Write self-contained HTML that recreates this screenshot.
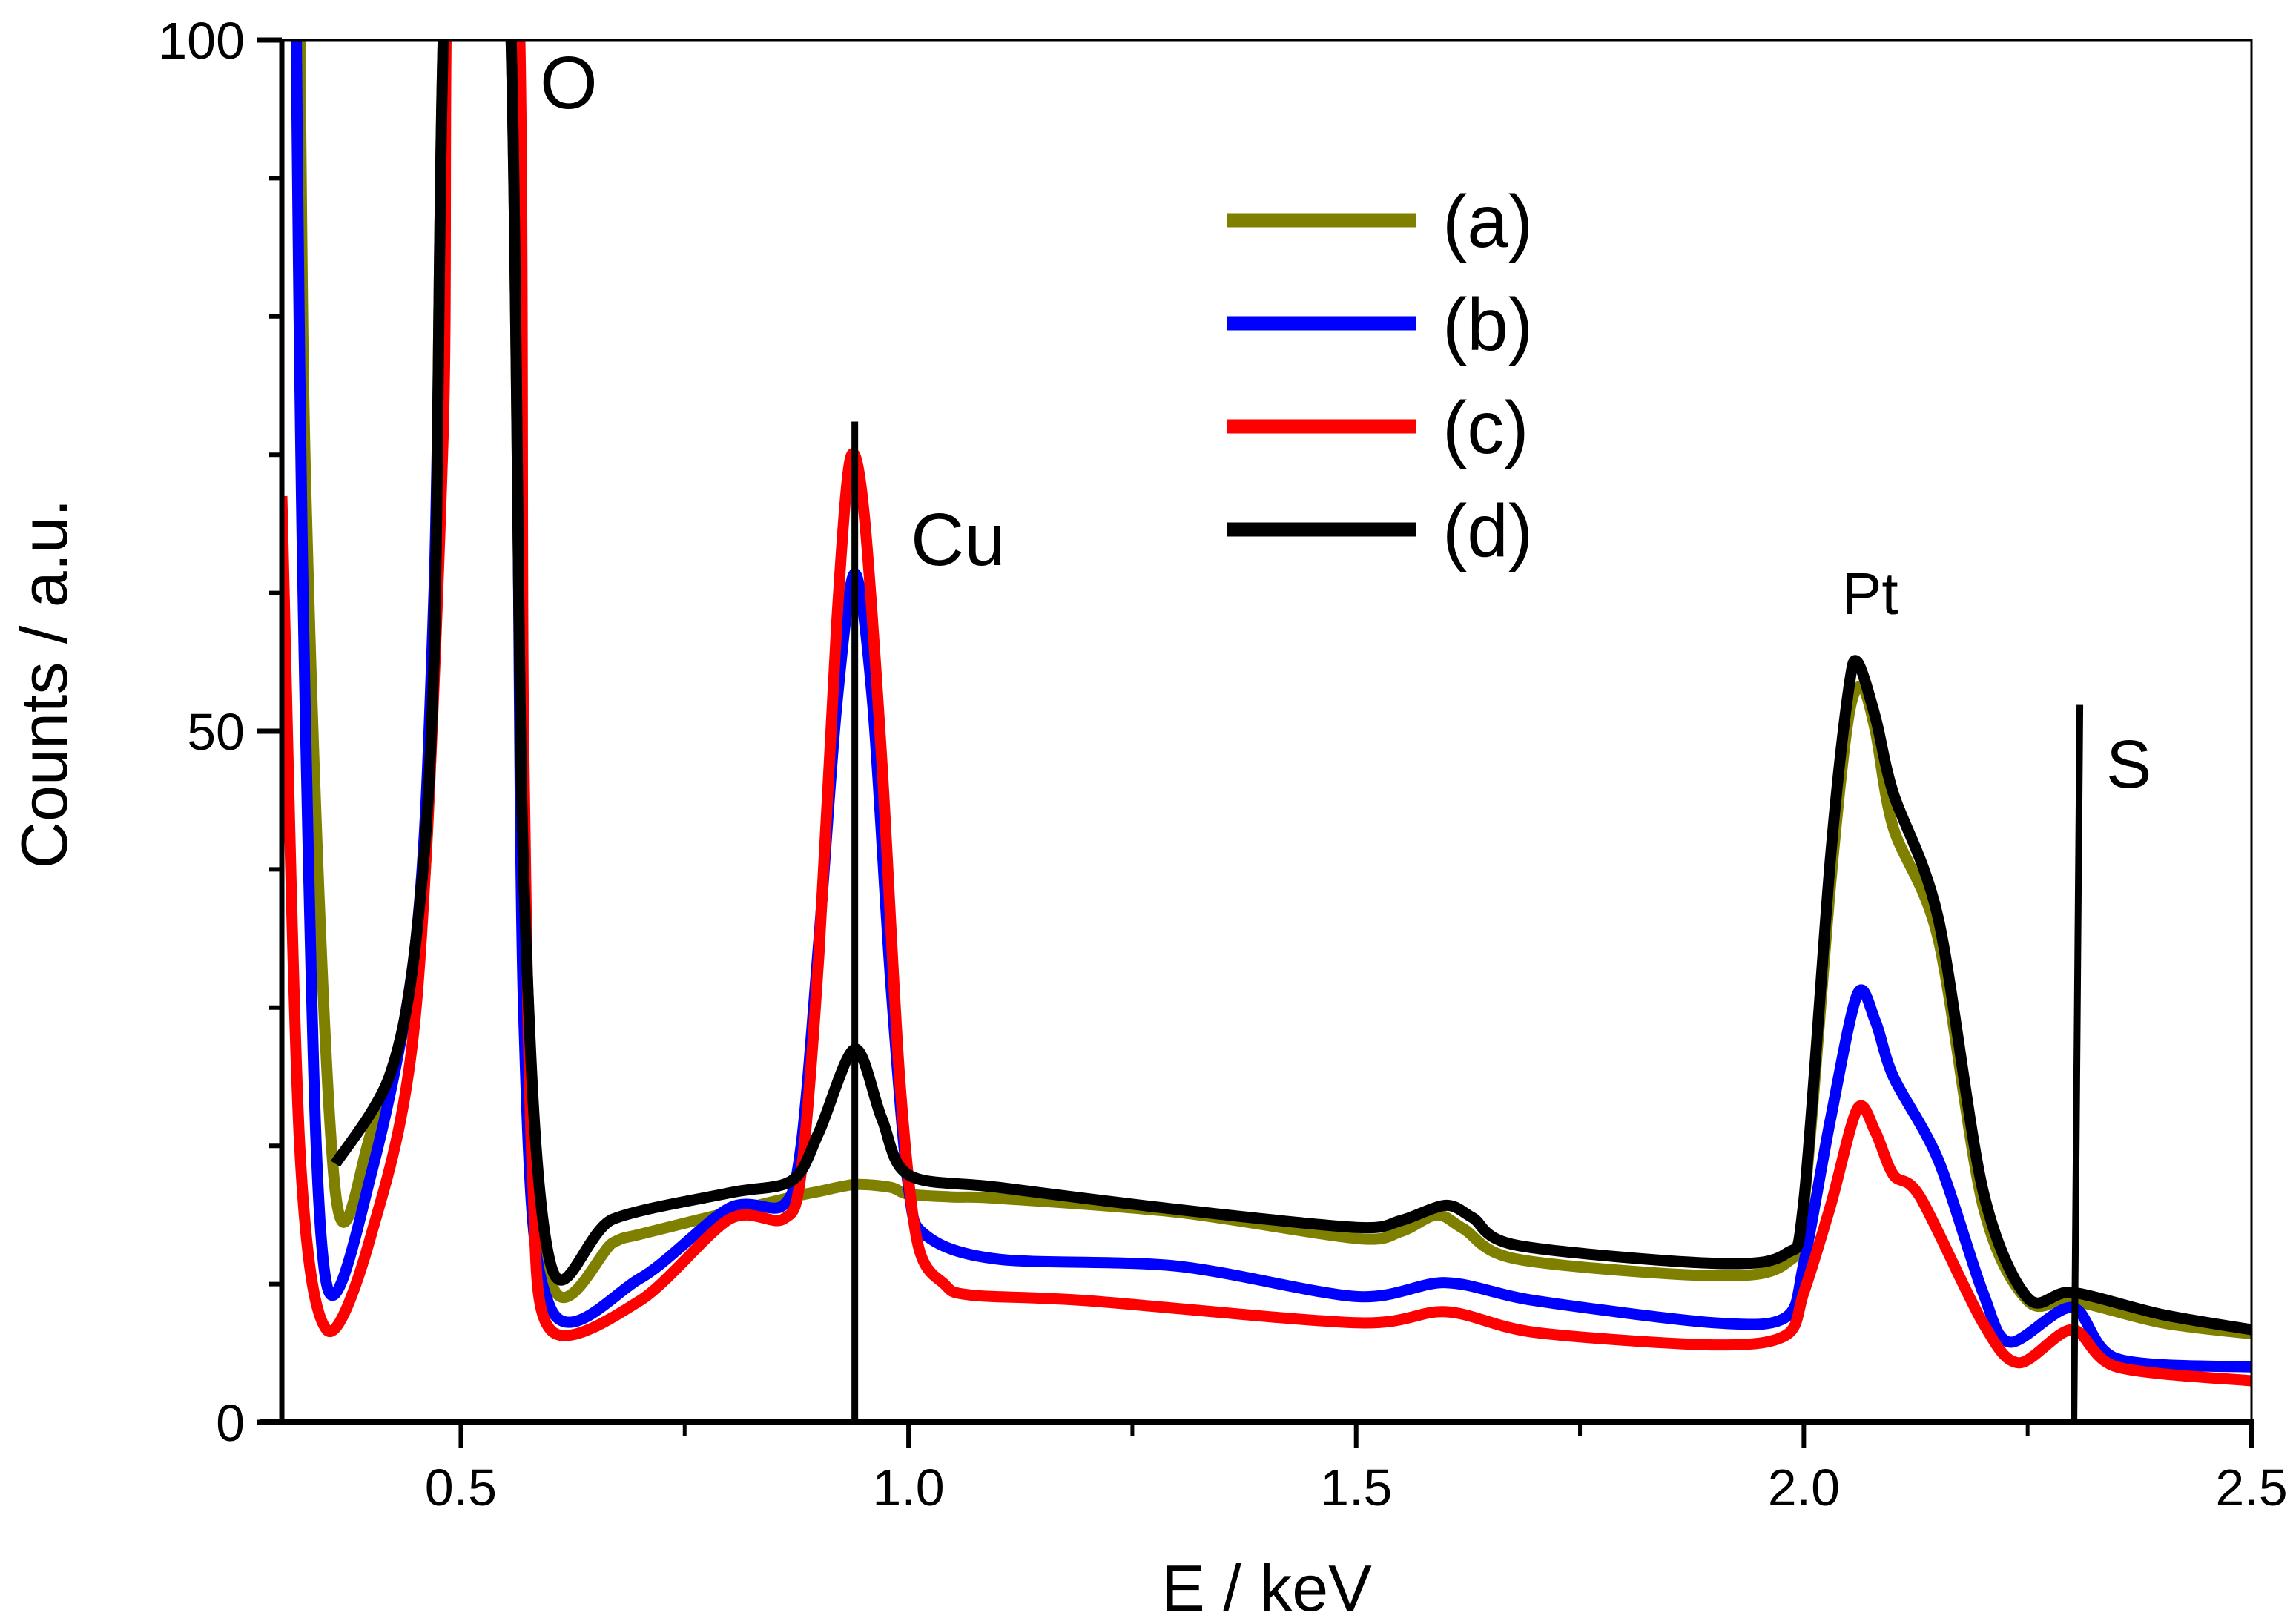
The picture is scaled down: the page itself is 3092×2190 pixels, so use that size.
<!DOCTYPE html>
<html><head><meta charset="utf-8"><style>
html,body{margin:0;padding:0;background:#fff}
svg{display:block}
text{font-family:"Liberation Sans",sans-serif;fill:#000}
</style></head><body>
<svg id="chart" width="3092" height="2190" viewBox="0 0 3092 2190" xmlns="http://www.w3.org/2000/svg">
<defs><clipPath id="plotclip"><rect x="380" y="54" width="2656" height="1864"/></clipPath></defs>
<g id="series" clip-path="url(#plotclip)"></g>
<g id="axes"></g>
<g id="annot"></g>
<g id="legend"></g>
</svg>
<script>
const xTicks=[0.5,1.0,1.5,2.0,2.5];
const xTickLabels=["0.5","1.0","1.5","2.0","2.5"];
const yTicks=[0,50,100];
const yTickLabels=["0","50","100"];
const seriesNames=["(a)","(b)","(c)","(d)"];
const seriesColors=["#808000","#0000ff","#ff0000","#000000"];
const xA=[0.30,0.319,0.33,0.36,0.40,0.45,0.47,0.487,0.55,0.57,0.60,0.67,0.70,0.80,0.87,0.90,0.94,0.98,1.00,1.05,1.10,1.30,1.50,1.55,1.59,1.62,1.68,1.90,1.98,2.00,2.03,2.05,2.065,2.08,2.10,2.15,2.20,2.25,2.30,2.40,2.50];
const yA=[300,110,60,16.6,21,33,55,110,110,40,10.4,13,13.6,15.2,16.3,16.7,17.2,17.0,16.5,16.3,16.2,15.2,13.3,13.8,15,14,11.8,10.6,11.5,15.7,39,51,53.2,50,43,35,15.7,8.8,8.8,7.2,6.4];
const xB=[0.30,0.315,0.33,0.35,0.40,0.45,0.47,0.49,0.553,0.57,0.60,0.70,0.80,0.86,0.88,0.90,0.92,0.94,0.96,0.98,1.00,1.02,1.10,1.30,1.50,1.60,1.70,1.90,1.98,2.00,2.03,2.06,2.08,2.10,2.15,2.20,2.23,2.30,2.35,2.50];
const yB=[300,110,40,10,18,35,60,110,110,30,8.3,10.4,15.5,15.7,20,35,52,61.4,52,32,17,13.5,11.8,11.3,9.1,10.1,8.8,7.2,7.6,11.5,22,31,29,25,19,9.4,5.8,8.3,4.6,4];
const xC=[0.30,0.32,0.35,0.40,0.45,0.48,0.49,0.56,0.57,0.58,0.60,0.70,0.80,0.86,0.88,0.90,0.92,0.935,0.95,0.97,0.99,1.01,1.04,1.07,1.20,1.50,1.60,1.70,1.90,1.98,2.00,2.03,2.06,2.08,2.10,2.13,2.20,2.24,2.30,2.35,2.50];
const yC=[67,20,6.7,13.6,30,71,110,110,50,18,6.7,8.8,14.7,14.7,18,34,58,69.7,66,48,25,13,10,9.2,8.8,7.2,8,6.5,5.6,6.3,9.4,15.7,22.7,21,17.9,16.3,7.2,4.3,6.7,4,3];
const xD=[0.36,0.42,0.45,0.47,0.487,0.55,0.57,0.60,0.67,0.80,0.87,0.90,0.94,0.97,1.00,1.10,1.30,1.50,1.55,1.60,1.63,1.68,1.90,1.98,2.00,2.03,2.05,2.06,2.08,2.10,2.15,2.20,2.25,2.30,2.40,2.50];
const yD=[18.7,25,35,55,110,110,40,11.5,14.7,16.6,17.5,21,27,22,17.9,17,15.4,14.1,14.6,15.7,14.8,12.8,11.5,12.2,16,41,53,55,51,45.5,36.5,16.8,9,9.4,7.8,6.7];
const cuLine=[0.94,72.4]; const sLine=[2.305,51.9];

const NS="http://www.w3.org/2000/svg";
const X0=380,X1=3036,Y0=1918,Y1=54;
function sx(v){return X0+(v-0.3)/(2.5-0.3)*(X1-X0);}
function sy(v){return Y0-(v/100)*(Y0-Y1);}
function mk(tag,attrs,parent){const e=document.createElementNS(NS,tag);for(const k in attrs)e.setAttribute(k,attrs[k]);parent.appendChild(e);return e;}
function smoothPath(pts){
  let d='M'+pts[0][0].toFixed(1)+' '+pts[0][1].toFixed(1);
  for(let i=0;i<pts.length-1;i++){
    const p0=pts[Math.max(0,i-1)],p1=pts[i],p2=pts[i+1],p3=pts[Math.min(pts.length-1,i+2)];
    const t=0.15;
    const c1=[p1[0]+(p2[0]-p0[0])*t,p1[1]+(p2[1]-p0[1])*t];
    const c2=[p2[0]-(p3[0]-p1[0])*t,p2[1]-(p3[1]-p1[1])*t];
    d+=' C'+c1[0].toFixed(1)+' '+c1[1].toFixed(1)+' '+c2[0].toFixed(1)+' '+c2[1].toFixed(1)+' '+p2[0].toFixed(1)+' '+p2[1].toFixed(1);
  }
  return d;
}
const gS=document.getElementById('series'),gA=document.getElementById('axes'),gN=document.getElementById('annot'),gL=document.getElementById('legend');
const data=[[xA,yA],[xB,yB],[xC,yC],[xD,yD]];
[0,1,2,3].forEach(i=>{
  const [xs,ys]=data[i];
  const pts=xs.map((x,j)=>[sx(x),sy(ys[j])]);
  const p=mk('path',{d:smoothPath(pts),fill:'none',stroke:seriesColors[i],'stroke-width':15,'stroke-linejoin':'round'},gS);
  
  
});
let f=mk('rect',{x:X0,y:Y1,width:X1-X0,height:Y0-Y1,fill:'none',stroke:'#000','stroke-width':3},gA);


let ax=mk('line',{x1:X0-30,y1:Y0,x2:X1+4,y2:Y0,stroke:'#000','stroke-width':8},gA);


let ay=mk('line',{x1:X0,y1:Y1,x2:X0,y2:Y0,stroke:'#000','stroke-width':7},gA);


xTicks.forEach((v,i)=>{
  const t=mk('line',{x1:sx(v),y1:Y0,x2:sx(v),y2:Y0+34,stroke:'#000','stroke-width':6},gA);
  
  
  const l=mk('text',{x:sx(v),y:Y0+112,'font-size':70,'text-anchor':'middle'},gA);l.textContent=xTickLabels[i];
  
  
  const m=v-0.25; if(m>0.3){const t2=mk('line',{x1:sx(m),y1:Y0,x2:sx(m),y2:Y0+18,stroke:'#000','stroke-width':5},gA);
  
  }
});
yTicks.forEach((v,i)=>{
  const t=mk('line',{x1:X0-34,y1:sy(v),x2:X0,y2:sy(v),stroke:'#000','stroke-width':7},gA);
  
  
  const l=mk('text',{x:X0-50,y:sy(v)+25,'font-size':70,'text-anchor':'end'},gA);l.textContent=yTickLabels[i];
  
  
});
for(let v=10;v<100;v+=10){if(v===50)continue;
  const t=mk('line',{x1:X0-17,y1:sy(v),x2:X0,y2:sy(v),stroke:'#000','stroke-width':6},gA);
  
  }
let xt=mk('text',{x:(X0+X1)/2,y:2172,'font-size':88,'text-anchor':'middle'},gA);xt.textContent='E / keV';


let yt=mk('text',{x:0,y:0,'font-size':88,'text-anchor':'middle',transform:'translate(90,922) rotate(-90)'},gA);yt.textContent='Counts / a.u.';


let cl=mk('line',{x1:sx(cuLine[0]),y1:sy(cuLine[1]),x2:sx(cuLine[0]),y2:Y0,stroke:'#000','stroke-width':9},gN);


let sl=mk('line',{x1:sx(sLine[0])+4,y1:sy(sLine[1]),x2:sx(sLine[0])-4,y2:Y0,stroke:'#000','stroke-width':9},gN);


const labels=[['O',728,146,100,'o-label'],['Cu',1228,762,100,'cu-label'],['Pt',2484,828,80,'pt-label'],['S',2840,1062,92,'s-label']];
labels.forEach(a=>{const t=mk('text',{x:a[1],y:a[2],'font-size':a[3]},gN);t.textContent=a[0];
  
  });
const legY=[297,436,575,714];
seriesNames.forEach((n,i)=>{
  const l=mk('line',{x1:1654,y1:legY[i],x2:1909,y2:legY[i],stroke:seriesColors[i],'stroke-width':19},gL);
  
  
  const t=mk('text',{x:1945,y:legY[i]+36,'font-size':100},gL);t.textContent=n;
  
  
});
</script>
</body></html>
